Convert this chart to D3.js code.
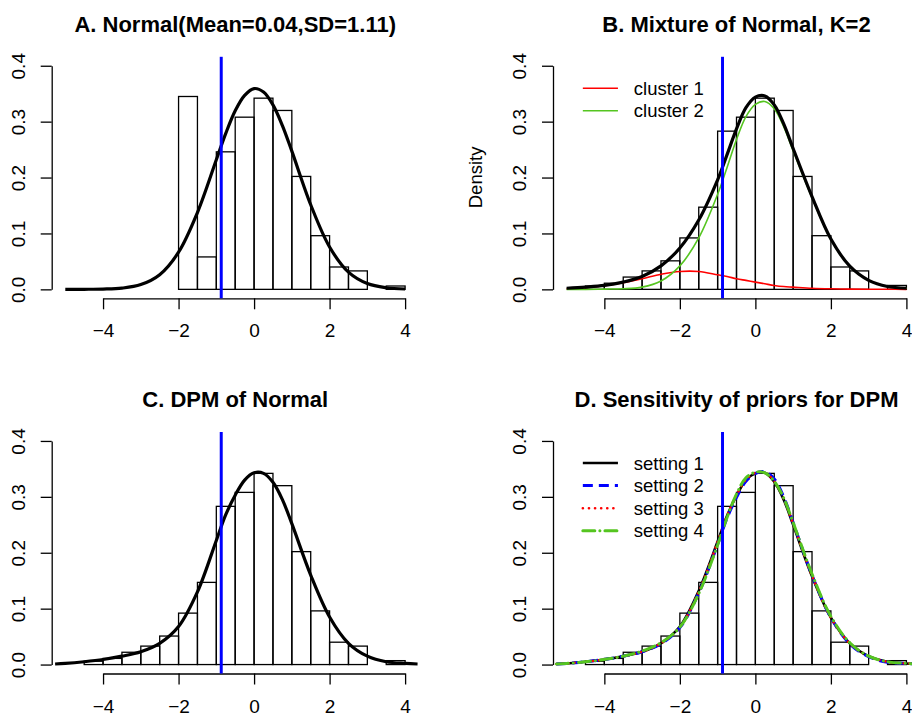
<!DOCTYPE html>
<html lang="en">
<head>
    <meta charset="UTF-8">
    <title>Density panels</title>
    <style>
        body { margin: 0; background: #fff; }
        text { font-family: "Liberation Sans", Arial, Helvetica, sans-serif; fill: #000; }
    </style>
</head>
<body>
    <div id="chart-container"></div>
    <script src="https://d3js.org/d3.v7.min.js"></script>
    <script>
        // histogram (bin starts, width 0.5) -- panel A and panels B-D
        const binWidth = 0.5;
        const binsA = [-2, -1.5, -1, -0.5, 0, 0.5, 1, 1.5, 2, 2.5, 3, 3.5];
        const densA = [0.345, 0.058, 0.246, 0.308, 0.342, 0.320, 0.202, 0.096, 0.040, 0.033, 0, 0.006];
        const binsAll = [-4.5, -4, -3.5, -3, -2.5, -2, -1.5, -1, -0.5, 0, 0.5, 1, 1.5, 2, 2.5, 3, 3.5];
        const densAll = [0.006, 0.011, 0.022, 0.033, 0.051, 0.092, 0.147, 0.283, 0.308, 0.342, 0.320, 0.202, 0.096, 0.040, 0.033, 0, 0.007];

        const cutoff = -0.87;

        // fitted curves
        const gridAB = [-5, -4.5, -4, -3.5, -3, -2.5, -2, -1.5, -1, -0.75, -0.5, -0.25, 0, 0.25, 0.5, 0.75, 1, 1.5, 2, 2.5, 3, 3.5, 4];
        const normalFit = [0.0000, 0.0001, 0.0005, 0.0022, 0.0085, 0.0262, 0.0664, 0.1374, 0.2317, 0.279, 0.3194, 0.347, 0.3592, 0.353, 0.330, 0.293, 0.2472, 0.1513, 0.0757, 0.0308, 0.0103, 0.0028, 0.0006];
        const mixFit = [0.002, 0.004, 0.007, 0.013, 0.023, 0.042, 0.074, 0.124, 0.196, 0.241, 0.287, 0.325, 0.344, 0.346, 0.330, 0.296, 0.252, 0.166, 0.090, 0.0415, 0.0162, 0.0051, 0.002];
        const cluster1 = [0.001, 0.003, 0.0065, 0.012, 0.019, 0.027, 0.032, 0.032, 0.026, 0.023, 0.019, 0.016, 0.013, 0.010, 0.007, 0.005, 0.004, 0.002, 0.001, 0.0005, 0.0002, 0.0001, 0];
        const cluster2 = [0, 0, 0.0005, 0.001, 0.004, 0.015, 0.042, 0.092, 0.170, 0.218, 0.268, 0.309, 0.331, 0.336, 0.323, 0.291, 0.248, 0.164, 0.089, 0.041, 0.016, 0.005, 0.002];

        const gridCD = [-5.27, -5, -4.5, -4, -3.5, -3, -2.5, -2, -1.5, -1, -0.75, -0.5, -0.25, 0, 0.25, 0.5, 0.75, 1, 1.5, 2, 2.5, 3, 3.5, 4, 4.33];
        const dpmFit = [0.001, 0.002, 0.005, 0.009, 0.015, 0.023, 0.038, 0.068, 0.130, 0.222, 0.268, 0.303, 0.330, 0.343, 0.342, 0.326, 0.295, 0.252, 0.160, 0.085, 0.038, 0.015, 0.005, 0.002, 0.001];
        const setting1 = [0.001, 0.002, 0.005, 0.009, 0.015, 0.023, 0.038, 0.068, 0.132, 0.220, 0.266, 0.302, 0.330, 0.342, 0.343, 0.327, 0.295, 0.250, 0.158, 0.084, 0.038, 0.015, 0.005, 0.002, 0.001];
        const setting2 = [0.001, 0.002, 0.005, 0.009, 0.015, 0.023, 0.037, 0.066, 0.128, 0.215, 0.262, 0.299, 0.328, 0.342, 0.345, 0.332, 0.300, 0.254, 0.160, 0.084, 0.037, 0.014, 0.004, 0.002, 0.001];
        const setting3 = [0.001, 0.002, 0.005, 0.009, 0.015, 0.023, 0.038, 0.067, 0.130, 0.219, 0.266, 0.303, 0.331, 0.343, 0.343, 0.328, 0.297, 0.252, 0.159, 0.084, 0.038, 0.015, 0.005, 0.002, 0.001];
        const setting4 = [0.001, 0.002, 0.005, 0.009, 0.015, 0.024, 0.039, 0.067, 0.127, 0.214, 0.263, 0.305, 0.334, 0.344, 0.343, 0.328, 0.298, 0.254, 0.162, 0.086, 0.039, 0.015, 0.005, 0.002, 0.001];

        const yTicks = [0, 0.1, 0.2, 0.3, 0.4];
        const xTicks = [-4, -2, 0, 2, 4];

        const RED = "#ff0000", GREEN = "#55c520", BLUE = "#0000ff";

        const svg = d3.select("#chart-container").append("svg")
            .attr("width", 912).attr("height", 715);

        function panel(opt) {
            const x = d3.scaleLinear().domain([-5.36, 4.36]).range([opt.left, opt.left + 367]);
            const y = d3.scaleLinear().domain([-0.016, 0.416]).range([opt.top + 241.5, opt.top]);
            const g = svg.append("g");

            // axes, only spanning the tick range like R
            const yAx = d3.scaleLinear().domain([0, 0.4]).range([y(0), y(0.4)]);
            const ya = g.append("g").attr("transform", `translate(${x.range()[0]},0)`)
                .call(d3.axisLeft(yAx).tickValues(yTicks).tickFormat(d3.format(".1f")).tickSize(11).tickSizeOuter(0));
            ya.selectAll("text").attr("x", 0).attr("dy", 0)
                .attr("transform", "translate(-27,0) rotate(-90)").attr("text-anchor", "middle");

            const xAx = d3.scaleLinear().domain([-4, 4]).range([x(-4), x(4)]);
            const xa = g.append("g").attr("transform", `translate(0,${y.range()[0]})`)
                .call(d3.axisBottom(xAx).tickValues(xTicks).tickSize(11).tickSizeOuter(0));
            xa.selectAll("text").attr("y", 39).attr("dy", 0);

            g.selectAll(".domain, .tick line").attr("stroke", "#000").attr("stroke-width", 1.3);
            g.selectAll(".tick text").style("font-size", "19px").attr("fill", "#000");

            // histogram
            g.selectAll(".bar").data(d3.zip(opt.bins, opt.dens)).enter().append("rect")
                .attr("class", "bar")
                .attr("x", d => x(d[0]))
                .attr("width", d => x(d[0] + binWidth) - x(d[0]))
                .attr("y", d => y(d[1]))
                .attr("height", d => y(0) - y(d[1]))
                .attr("fill", "none").attr("stroke", "#000").attr("stroke-width", 1.3);

            const line = d3.line().x(d => x(d[0])).y(d => y(d[1])).curve(d3.curveCatmullRom.alpha(0.5));
            opt.curves.forEach(c => {
                g.append("path").datum(d3.zip(c.grid, c.values))
                    .attr("fill", "none").attr("stroke", c.color)
                    .attr("stroke-width", c.width)
                    .attr("stroke-dasharray", c.dash || null)
                    .attr("stroke-linecap", c.cap || "butt")
                    .attr("d", line);
            });

            // cut-off line
            g.append("line")
                .attr("x1", x(cutoff)).attr("x2", x(cutoff))
                .attr("y1", y.range()[1]).attr("y2", y.range()[0])
                .attr("stroke", BLUE).attr("stroke-width", 3);

            g.append("text")
                .attr("x", (x.range()[0] + x.range()[1]) / 2)
                .attr("y", opt.top - 25)
                .attr("text-anchor", "middle")
                .style("font-size", "22px").style("font-weight", "bold")
                .text(opt.title);

            // legend
            (opt.legend || []).forEach((c, i) => {
                const ly = opt.top + opt.legendTop + i * opt.legendStep;
                g.append("line").attr("x1", x(-4.57)).attr("x2", x(-3.64))
                    .attr("y1", ly).attr("y2", ly)
                    .attr("stroke", c.color).attr("stroke-width", c.width)
                    .attr("stroke-dasharray", c.dash || null)
                    .attr("stroke-linecap", c.cap || "butt");
                g.append("text").attr("x", x(-3.22)).attr("y", ly + 6.5)
                    .style("font-size", "18.5px").text(c.label);
            });
            return {x, y, g};
        }

        panel({
            left: 51.7, top: 56.8, title: "A. Normal(Mean=0.04,SD=1.11)",
            bins: binsA, dens: densA,
            curves: [{grid: gridAB, values: normalFit, color: "#000", width: 3.2}]
        });

        const clusterStyles = [
            {grid: gridAB, values: cluster1, color: RED, width: 1.6, label: "cluster 1"},
            {grid: gridAB, values: cluster2, color: GREEN, width: 1.6, label: "cluster 2"}
        ];
        const pB = panel({
            left: 553, top: 56.8, title: "B. Mixture of Normal, K=2",
            bins: binsAll, dens: densAll,
            curves: clusterStyles.concat([{grid: gridAB, values: mixFit, color: "#000", width: 3.2}]),
            legend: clusterStyles, legendTop: 31.5, legendStep: 22.4
        });
        pB.g.append("text")
            .attr("transform", "translate(482,177.4) rotate(-90)")
            .attr("text-anchor", "middle")
            .style("font-size", "18.5px").text("Density");

        panel({
            left: 51.7, top: 432, title: "C. DPM of Normal",
            bins: binsAll, dens: densAll,
            curves: [{grid: gridCD, values: dpmFit, color: "#000", width: 3.2}]
        });

        const settingStyles = [
            {values: setting1, color: "#000", width: 2.6, label: "setting 1"},
            {values: setting2, color: BLUE, width: 3, dash: "10,6", label: "setting 2"},
            {values: setting3, color: RED, width: 2.6, dash: "0.1,6", cap: "round", label: "setting 3"},
            {values: setting4, color: GREEN, width: 3, dash: "12,5,0.1,5", cap: "round", label: "setting 4"}
        ];
        panel({
            left: 553, top: 432, title: "D. Sensitivity of priors for DPM",
            bins: binsAll, dens: densAll,
            curves: settingStyles.map(s => Object.assign({grid: gridCD}, s)),
            legend: settingStyles, legendTop: 31, legendStep: 22.6
        });
    </script>
</body>
</html>
